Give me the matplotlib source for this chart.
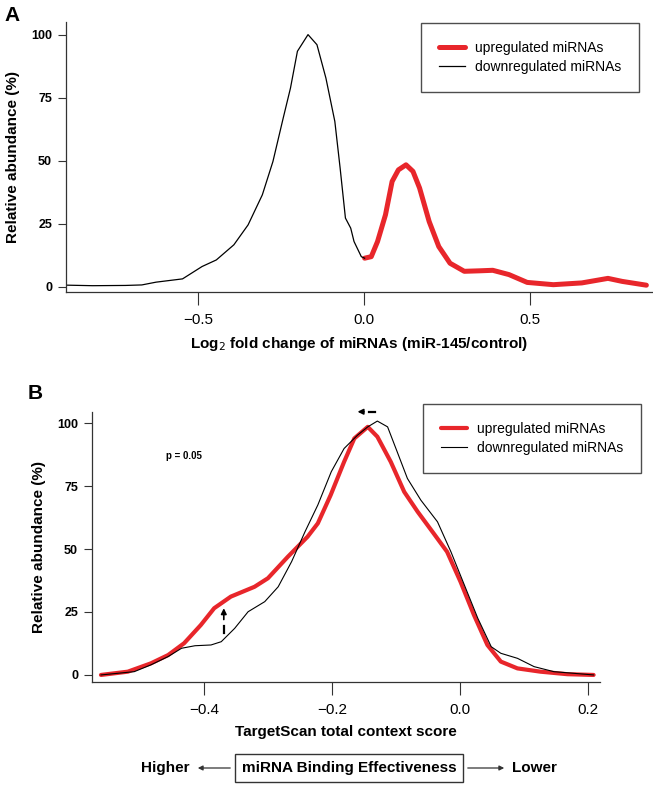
import matplotlib
matplotlib.use('Agg')
import matplotlib.pyplot as plt

plt.rcParams['font.family'] = ['Liberation Sans', 'DejaVu Sans']

# Panel A: log2 fold change distributions
a_down_x = [-0.93, -0.82, -0.72, -0.671, -0.628, -0.548, -0.489, -0.446, -0.393,
            -0.350, -0.307, -0.275, -0.244, -0.222, -0.201, -0.169, -0.142,
            -0.115, -0.088, -0.072, -0.056, -0.040, -0.030, -0.008, 0.002]
a_down_y = [0.8, 0.5, 0.6, 0.8, 1.9, 3.2, 8.1, 10.7, 16.7,
            24.6, 36.5, 49.7, 66.9, 78.8, 93.4, 100, 96,
            82.8, 65.6, 47.1, 27.3, 23.3, 18, 12, 11.4]
a_up_x = [0.002, 0.022, 0.041, 0.065, 0.085, 0.104, 0.127, 0.148, 0.168, 0.197,
          0.226, 0.260, 0.303, 0.35, 0.389, 0.438, 0.493, 0.572, 0.658, 0.737,
          0.78, 0.853]
a_up_y = [11.4, 12, 18, 28.6, 41.8, 46.4, 48.4, 45.8, 39.2, 25.9,
          16, 9.4, 6.2, 6.4, 6.6, 4.9, 1.8, 0.9, 1.6, 3.4,
          2.2, 0.7]

# Panel B: TargetScan context score distributions
b_up_x = [-0.561, -0.519, -0.483, -0.456, -0.431, -0.405, -0.384, -0.358, -0.321,
          -0.300, -0.269, -0.238, -0.222, -0.202, -0.181, -0.165, -0.144, -0.129,
          -0.108, -0.087, -0.066, -0.041, -0.020, 0.001, 0.022, 0.043, 0.064,
          0.090, 0.126, 0.168, 0.209]
b_up_y = [0, 1.3, 4.6, 7.9, 12.6, 19.8, 26.5, 31.1, 35,
          38.4, 46.9, 54.9, 60.2, 71.4, 84.6, 93.9, 98.5, 94.6,
          84.6, 72.7, 64.8, 56.2, 48.9, 37, 23.8, 11.9, 5.3,
          2.6, 1.3, 0.3, 0]
b_down_x = [-0.561, -0.509, -0.483, -0.456, -0.435, -0.414, -0.389, -0.373, -0.352,
            -0.331, -0.305, -0.284, -0.263, -0.242, -0.222, -0.201, -0.181, -0.160,
            -0.144, -0.129, -0.113, -0.098, -0.082, -0.061, -0.035, -0.014, 0.007,
            0.028, 0.049, 0.064, 0.090, 0.116, 0.147, 0.209]
b_down_y = [0, 1.3, 4, 7.3, 10.6, 11.6, 11.9, 13.2, 18.5,
            25.1, 29.1, 35, 45, 56.9, 67.5, 80.7, 89.9, 95.2,
            98.5, 100.8, 98.5, 88.6, 78, 69.4, 60.8, 48.9, 35.7,
            22.5, 11.2, 8.6, 6.6, 3.3, 1.3, 0]

yticks = [0, 25, 50, 75, 100]
a_xticks = [-0.5, 0.0, 0.5]
b_xticks = [-0.4, -0.2, 0.0, 0.2]

RED = '#e8262b'
W, H = 653, 787


def style_axes(ax):
    for s in ['top', 'right']:
        ax.spines[s].set_visible(False)
    for s in ['left', 'bottom']:
        ax.spines[s].set_color('#333333')
        ax.spines[s].set_linewidth(0.9)
    ax.tick_params(axis='y', direction='out', length=6, width=0.8,
                   color='#333333', labelsize=9, pad=4)
    ax.tick_params(axis='x', direction='out', length=9, width=0.8,
                   color='#333333', labelsize=11, pad=6)
    ax.set_yticks(yticks)
    for lab in ax.get_yticklabels():
        lab.set_fontweight('bold')


def add_legend(ax, right, top):
    leg = ax.legend(loc='upper right',
                    bbox_to_anchor=(right / W, 1 - top / H),
                    bbox_transform=ax.figure.transFigure,
                    frameon=True, fancybox=False, fontsize=10,
                    handlelength=1.9, handletextpad=0.7, labelspacing=0.35,
                    borderpad=1.3, borderaxespad=0)
    leg.get_frame().set_edgecolor('#222222')
    leg.get_frame().set_linewidth(1.0)
    return leg


fig = plt.figure(figsize=(6.53, 7.87), dpi=100)

# ---- panel A ----
axA = fig.add_axes([66 / W, 1 - 292 / H, (652 - 66) / W, (292 - 22) / H])
axA.plot(a_up_x, a_up_y, color=RED, lw=3.6, label='upregulated miRNAs',
         solid_capstyle='round', solid_joinstyle='round')
axA.plot(a_down_x, a_down_y, color='black', lw=0.9, label='downregulated miRNAs')
axA.set_xlim(-0.9, 0.87)
axA.set_ylim(-2, 105)
axA.set_xticks(a_xticks)
axA.set_xticklabels(['\u22120.5', '0.0', '0.5'])
style_axes(axA)
axA.set_ylabel('Relative abundance (%)', fontsize=11, fontweight='bold', labelpad=8)
axA.set_xlabel('Log$_2$ fold change of miRNAs (miR-145/control)',
               fontsize=11, fontweight='bold', labelpad=6)
add_legend(axA, 639, 23)
fig.text(4 / W, 1 - 6 / H, 'A', fontsize=15, fontweight='bold', va='top')

# ---- panel B ----
axB = fig.add_axes([92 / W, 1 - 682 / H, (600 - 92) / W, (682 - 412) / H])
axB.plot(b_up_x, b_up_y, color=RED, lw=3.0, label='upregulated miRNAs',
         solid_capstyle='round', solid_joinstyle='round')
axB.plot(b_down_x, b_down_y, color='black', lw=0.8, label='downregulated miRNAs')
axB.set_xlim(-0.575, 0.219)
axB.set_ylim(-2.8, 104.4)
axB.set_xticks(b_xticks)
axB.set_xticklabels(['\u22120.4', '\u22120.2', '0.0', '0.2'])
style_axes(axB)
axB.set_ylabel('Relative abundance (%)', fontsize=11, fontweight='bold', labelpad=8)
axB.set_xlabel('TargetScan total context score', fontsize=11, fontweight='bold',
               labelpad=6)
add_legend(axB, 641, 404)
fig.text(28 / W, 1 - 384 / H, 'B', fontsize=15, fontweight='bold', va='top')

axB.text(-0.46, 87, 'p = 0.05', fontsize=7, fontweight='bold', va='center')

# shift arrows
axB.annotate('', xy=(-0.160, 104.5), xytext=(-0.150, 104.5),
             arrowprops=dict(arrowstyle='-|>', color='black', lw=1.2,
                             mutation_scale=8, shrinkA=0, shrinkB=0),
             annotation_clip=False)
axB.plot([-0.142, -0.133], [104.5, 104.5], color='black', lw=1.6, clip_on=False)
axB.annotate('', xy=(-0.369, 26.5), xytext=(-0.369, 22),
             arrowprops=dict(arrowstyle='-|>', color='black', lw=1.2,
                             mutation_scale=8, shrinkA=0, shrinkB=0))
axB.plot([-0.369, -0.369], [16.5, 19.5], color='black', lw=1.6)

# ---- bottom key ----
yk = 1 - 768 / H
fig.text(349 / W, yk, 'miRNA Binding Effectiveness', fontsize=11, fontweight='bold',
         ha='center', va='center',
         bbox=dict(boxstyle='square,pad=0.45', fc='white', ec='#333333', lw=1.0))
fig.text(190 / W, yk, 'Higher', fontsize=11, fontweight='bold', ha='right', va='center')
fig.text(512 / W, yk, 'Lower', fontsize=11, fontweight='bold', ha='left', va='center')
fig.add_artist(matplotlib.patches.FancyArrowPatch(
    (233 / W, yk), (195 / W, yk), transform=fig.transFigure,
    arrowstyle='-|>', mutation_scale=7, color='#333333', lw=0.9))
fig.add_artist(matplotlib.patches.FancyArrowPatch(
    (465 / W, yk), (507 / W, yk), transform=fig.transFigure,
    arrowstyle='-|>', mutation_scale=7, color='#333333', lw=0.9))

fig.savefig('out.png', dpi=100)
